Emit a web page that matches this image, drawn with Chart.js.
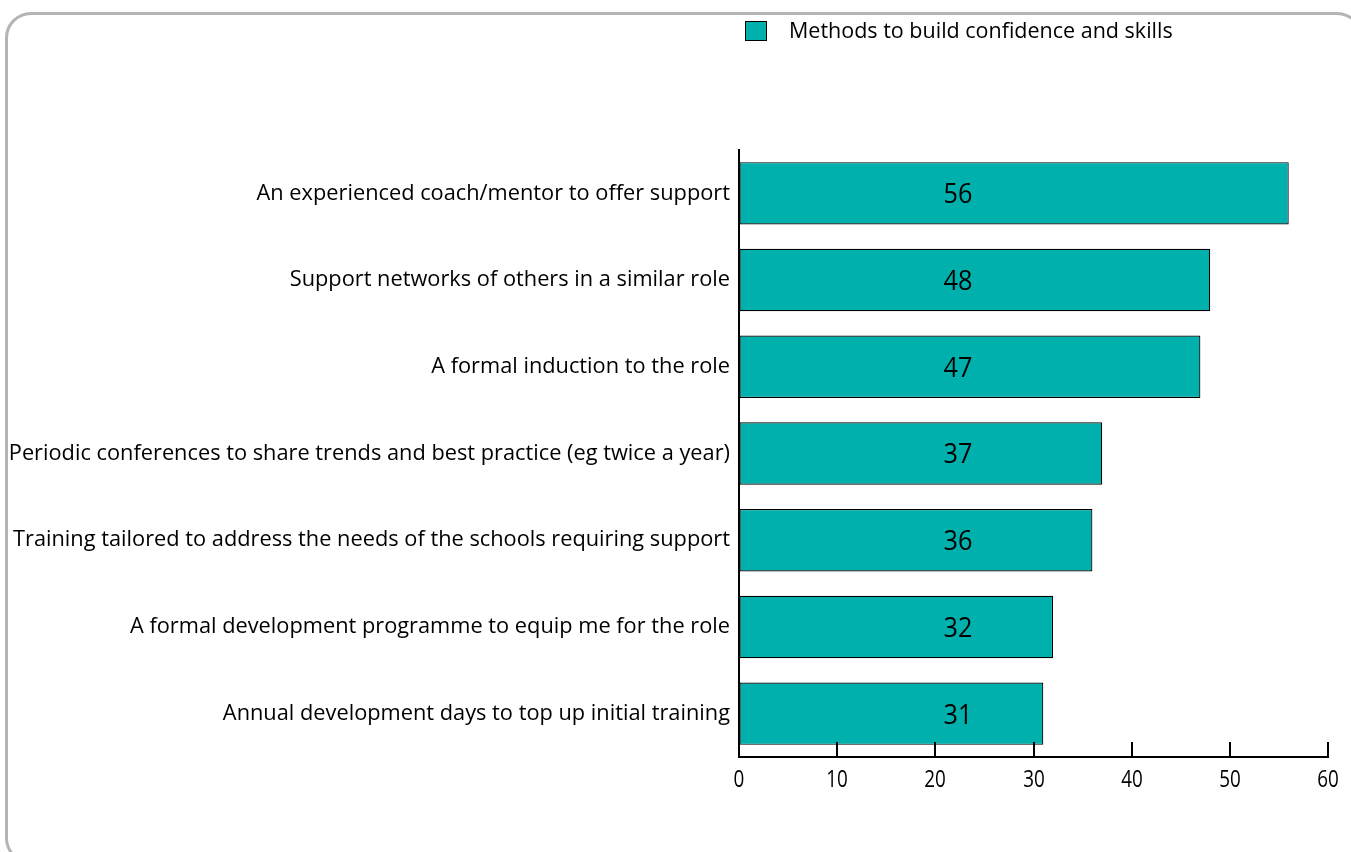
<!DOCTYPE html>
<html>
<head>
<meta charset="utf-8">
<script src="https://cdn.jsdelivr.net/npm/chart.js@4.4.0/dist/chart.umd.min.js"></script>
<style>
  html, body { margin: 0; padding: 0; background: #fff; overflow: hidden; }
  .frame {
    position: absolute; left: 5px; top: 12px; width: 1358px; height: 852px;
    border: 3px solid #b4b4b4; border-radius: 26px; box-sizing: border-box;
  }
  .wrap { position: absolute; left: 0; top: 0; width: 1351px; height: 852px; }
</style>
</head>
<body>
<div class="frame"></div>
<div class="wrap"><canvas id="chart"></canvas></div>
<script>
const categories = [
  'An experienced coach/mentor to offer support',
  'Support networks of others in a similar role',
  'A formal induction to the role',
  'Periodic conferences to share trends and best practice (eg twice a year)',
  'Training tailored to address the needs of the schools requiring support',
  'A formal development programme to equip me for the role',
  'Annual development days to top up initial training'
];
const values = [56, 48, 47, 37, 36, 32, 31];
const xTicks = [0, 10, 20, 30, 40, 50, 60];
const seriesName = 'Methods to build confidence and skills';

const FONT = '"Open Sans", "Noto Sans", sans-serif';
const TEAL = '#00b0ac';

// squeeze lets the digits look a little narrower than the body text
function drawText(ctx, text, x, y, size, align, squeeze) {
  ctx.save();
  ctx.translate(x, y);
  ctx.scale(squeeze || 1, 1);
  ctx.font = size + 'px ' + FONT;
  ctx.textAlign = align;
  ctx.textBaseline = 'middle';
  ctx.fillStyle = '#000';
  ctx.fillText(text, 0, 0);
  ctx.restore();
}

const labelsPlugin = {
  id: 'labels',
  afterDraw(chart) {
    const ctx = chart.ctx;
    const xs = chart.scales.x;
    const ys = chart.scales.y;

    // tick marks point up into the plot, labels sit below
    ctx.save();
    ctx.strokeStyle = '#000';
    ctx.lineWidth = 2;
    xTicks.forEach(v => {
      const px = Math.round(xs.getPixelForValue(v));
      ctx.beginPath();
      ctx.moveTo(px, xs.top);
      ctx.lineTo(px, xs.top - 15);
      ctx.stroke();
      drawText(ctx, String(v), px, xs.top + 23, 23, 'center', 0.82);
    });
    ctx.restore();

    categories.forEach((c, i) => {
      drawText(ctx, c, ys.right - 9, ys.getPixelForTick(i), 22, 'right', 0.99);
    });

    const meta = chart.getDatasetMeta(0);
    const labelX = xs.getPixelForValue(22.3);
    meta.data.forEach((bar, i) => {
      drawText(ctx, String(values[i]), labelX, bar.y + 2, 28, 'center', 0.9);
    });

    // legend
    ctx.save();
    ctx.fillStyle = TEAL;
    ctx.fillRect(745, 21, 22, 20);
    ctx.strokeStyle = '#000';
    ctx.lineWidth = 1;
    ctx.strokeRect(745.5, 21.5, 21, 19);
    ctx.restore();
    drawText(ctx, seriesName, 789, 32, 21.5, 'left', 1);
  }
};

new Chart(document.getElementById('chart'), {
  type: 'bar',
  data: {
    labels: categories,
    datasets: [{
      label: seriesName,
      data: values,
      backgroundColor: TEAL,
      borderColor: '#000',
      borderWidth: 1.2,
      borderSkipped: false,
      categoryPercentage: 0.8,
      barPercentage: 0.9
    }]
  },
  options: {
    indexAxis: 'y',
    responsive: true,
    maintainAspectRatio: false,
    animation: false,
    devicePixelRatio: 1,
    layout: { padding: { top: 150, right: 23, bottom: 30, left: 0 } },
    plugins: {
      legend: { display: false },
      tooltip: { enabled: false }
    },
    scales: {
      x: {
        min: 0,
        max: 60,
        ticks: { stepSize: 10, display: false },
        grid: { drawOnChartArea: false, drawTicks: false },
        border: { color: '#000', width: 2 },
        afterFit: s => { s.height = 65; }
      },
      y: {
        ticks: { display: false },
        grid: { display: false },
        border: { color: '#000', width: 2 },
        afterFit: s => { s.width = 739; }
      }
    }
  },
  plugins: [labelsPlugin]
});
</script>
</body>
</html>
